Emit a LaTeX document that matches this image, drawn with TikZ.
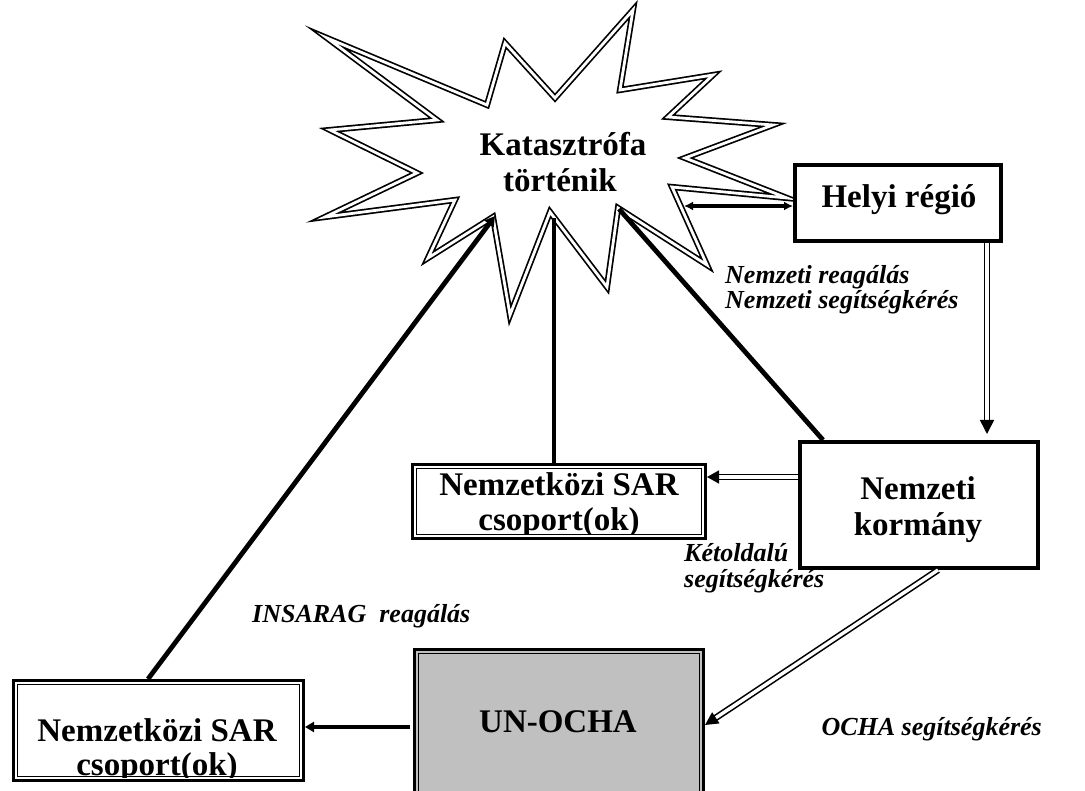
\documentclass[tikz,border=0pt]{standalone}
\usepackage{fontspec}
\setmainfont{Liberation Serif}
\usetikzlibrary{arrows.meta}
\definecolor{ochagray}{RGB}{192,192,192}
\begin{document}
\begin{tikzpicture}[x=1pt,y=-1pt,
  btxt/.style={font=\fontsize{33}{36}\selectfont\bfseries, inner sep=0pt, anchor=base},
  itxt/.style={font=\fontsize{26}{26}\selectfont\bfseries\itshape, inner sep=0pt, anchor=base west},
  thickbox/.style={draw, line width=4pt, fill=white, inner sep=0pt},
  dblbox/.style={draw, line width=3pt, fill=white, inner sep=0pt,
    path picture={\draw[line width=1.4pt]
      ([shift={(4.2pt,-4.2pt)}]path picture bounding box.north west) rectangle
      ([shift={(-4.2pt,4.2pt)}]path picture bounding box.south east);}},
  starline/.style={double, line width=1.7pt, double distance=2.8pt, fill=white},
  thickline/.style={line width=4.8pt},
  thickarrow/.style={line width=4pt},
  dblline/.style={double, line width=1.6pt, double distance=3.4pt}
]
\useasboundingbox (0,0) rectangle (1085,791);

% starburst
\draw[starline] (327,38) -- (487,105) -- (505,43) -- (555,98) -- (633,10) -- (620,90)
  -- (713,75) -- (668,117) -- (773,125) -- (685,158) -- (787,198) -- (672,187)
  -- (707,265) -- (618,208) -- (607,287) -- (550,212) -- (510,315) -- (493,217)
  -- (428,258) -- (455,200) -- (325,217) -- (417,173) -- (330,130) -- (437,120) -- cycle;
\node[btxt] (star1) at (563,156) {Katasztrófa};
\node[btxt] (star2) at (560,192) {történik};
\coordinate (tipS) at (495,216);
\coordinate (tipV) at (554,218);
\coordinate (tipK) at (619,209);
\coordinate (tipH) at (684,206);

% boxes
\node[thickbox, minimum width=206pt, minimum height=76pt] (helyi) at (898,203.5) {};
\node[btxt] (helyit) at (899,208) {Helyi régió};

\node[thickbox, minimum width=238pt, minimum height=126pt] (korm) at (919,505) {};
\node[btxt] (korm1) at (918,500) {Nemzeti};
\node[btxt] (korm2) at (918,536) {kormány};

\node[dblbox, minimum width=293pt, minimum height=74pt] (sar1) at (559,501.5) {};
\node[btxt] (sar1a) at (559,496) {Nemzetközi SAR};
\begin{scope}
  \clip (sar1.north west) rectangle (707,533);
  \node[btxt] (sar1b) at (559,530) {csoport(ok)};
\end{scope}

\node[dblbox, minimum width=290pt, minimum height=100pt] (sar2) at (158.5,730.5) {};
\node[btxt] (sar2a) at (157,741) {Nemzetközi SAR};
\begin{scope}
  \clip (sar2.north west) rectangle (305,777);
  \node[btxt] (sar2b) at (157,775) {csoport(ok)};
\end{scope}

\node[dblbox, fill=ochagray, minimum width=289pt, minimum height=180pt] (ocha) at (559,739.5) {};
\node[btxt] (ochat) at (558,732) {UN-OCHA};

% labels
\node[itxt] (lab1) at (725,284) {Nemzeti reagálás};
\node[itxt] (lab2) at (725,309) {Nemzeti segítségkérés};
\node[itxt] (lab3) at (684,561) {Kétoldalú};
\node[itxt] (lab4) at (684,587) {segítségkérés};
\node[itxt] (lab5) at (252,622) {INSARAG\ \ reagálás};
\node[itxt, anchor=base east] (lab6) at (1042,735) {OCHA segítségkérés};

% connectors
\draw[thickarrow, {Latex[length=9pt,width=9pt]}-{Latex[length=9pt,width=9pt]}]
  (tipH) -- (tipH -| helyi.west);
\draw[dblline, -{Triangle[length=14pt,width=14pt]}, shorten >=6pt]
  ([xshift=89pt]helyi.south) -- ([xshift=89pt]helyi.south |- korm.north);
\draw[dblline, -{Triangle[length=12pt,width=13pt]}]
  ([yshift=28pt]korm.west) -- ([yshift=28pt]korm.west -| sar1.east);
\draw[dblline, -{Triangle[length=13pt,width=13pt]}]
  ([xshift=19pt]korm.south) -- ([yshift=14.5pt]ocha.east);
\draw[thickarrow, -{Triangle[length=9pt,width=10pt]}]
  ([yshift=12.5pt, xshift=-3pt]ocha.west) -- ([yshift=12.5pt]ocha.west -| sar2.east);
\draw[thickline, -{Triangle[length=10pt,width=11pt]}]
  ([xshift=-10.5pt]sar2.north) -- (tipS);
\draw[thickline] ([xshift=-5pt]sar1.north) -- (tipV);
\draw[thickline] ([xshift=25pt]korm.north west) -- (tipK);
\end{tikzpicture}
\end{document}
